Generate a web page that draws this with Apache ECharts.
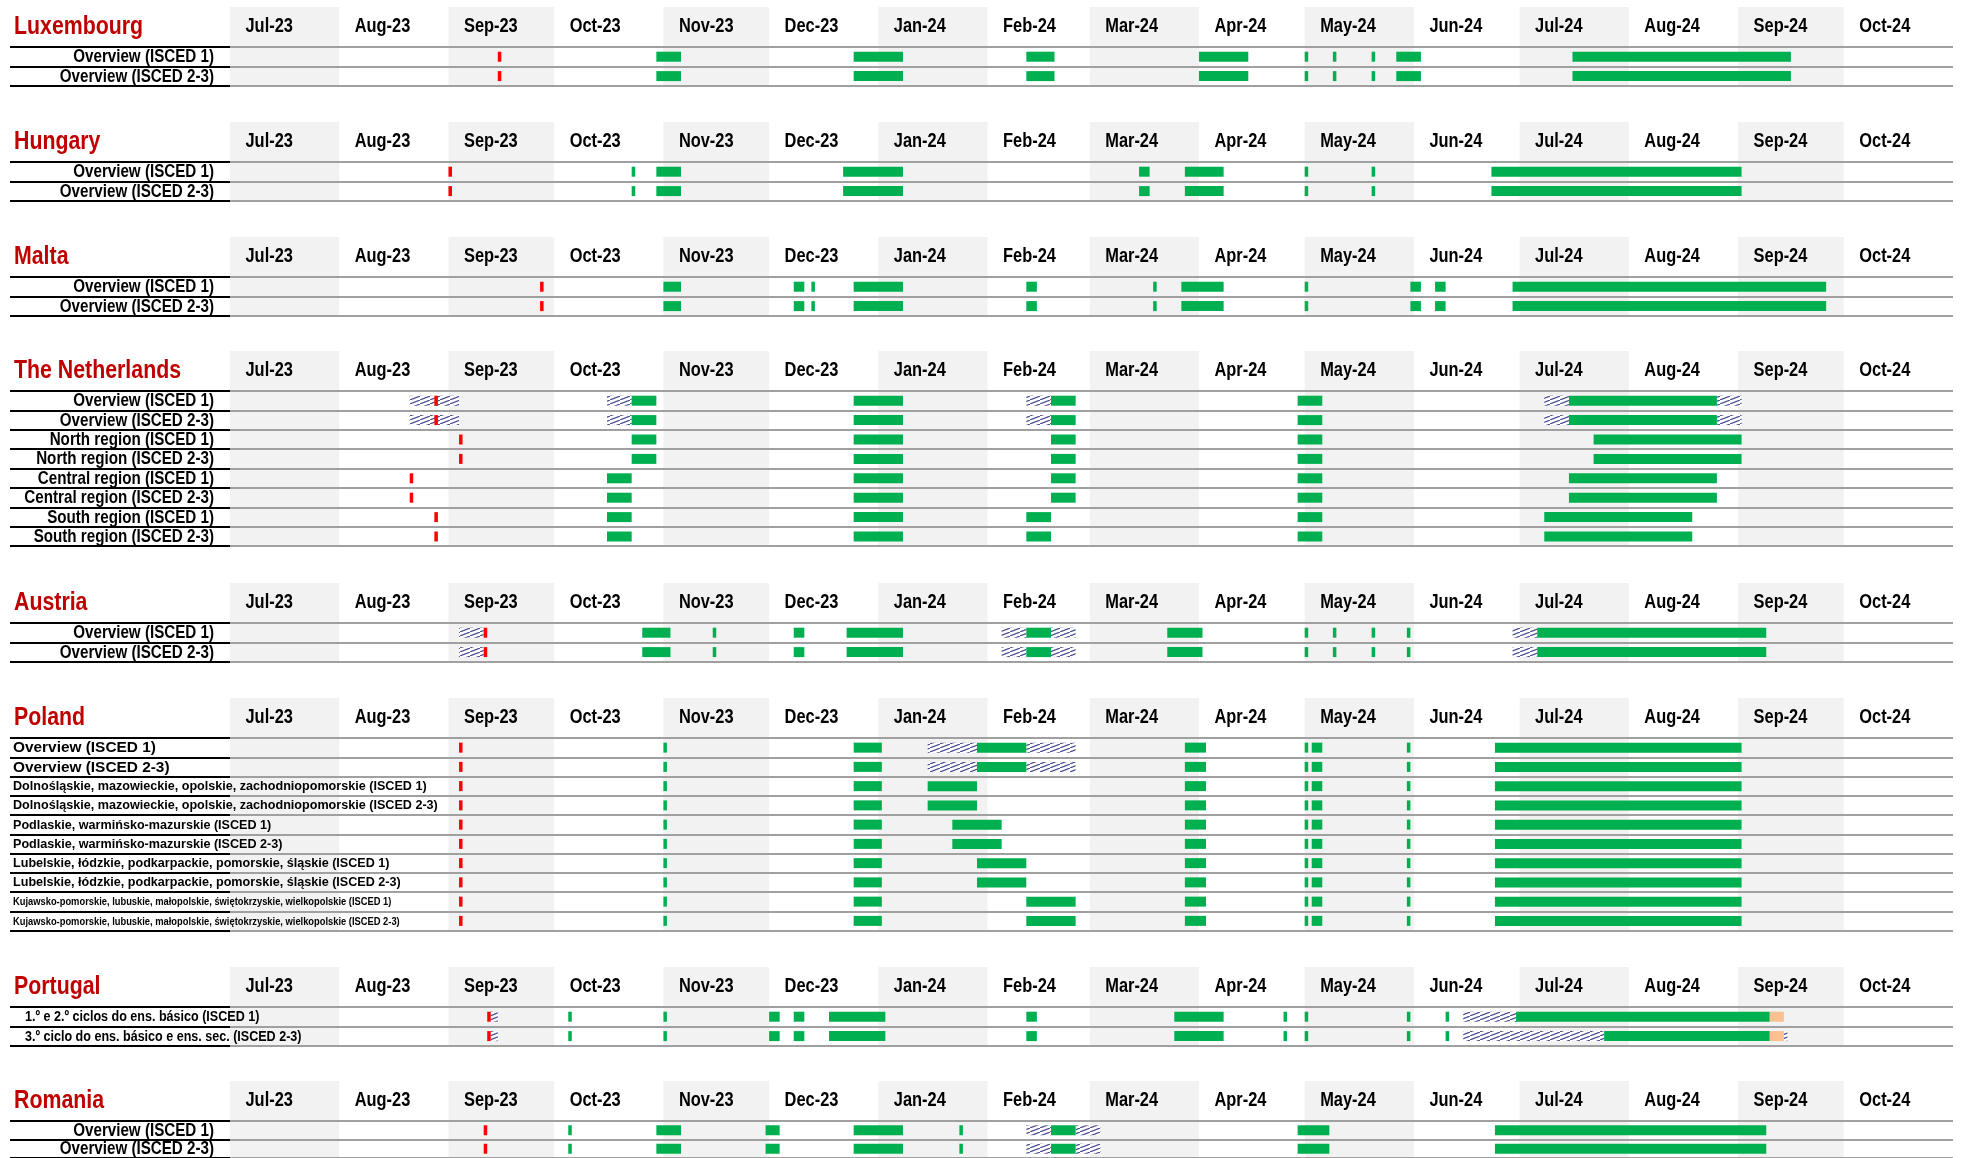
<!DOCTYPE html>
<html>
<head>
<meta charset="utf-8">
<script src="https://cdn.jsdelivr.net/npm/echarts@6/dist/echarts.min.js"></script>
<style>
html, body { margin: 0; padding: 0; background: #fff; }
#main { width: 1963px; height: 1158px; }
</style>
</head>
<body>
<div id="main"></div>
<script>
var monthLabels = ['Jul-23', 'Aug-23', 'Sep-23', 'Oct-23', 'Nov-23', 'Dec-23', 'Jan-24', 'Feb-24',
    'Mar-24', 'Apr-24', 'May-24', 'Jun-24', 'Jul-24', 'Aug-24', 'Sep-24', 'Oct-24'];

// bars: [kind, first row, last row, start, end (exclusive, empty = one day)]
// kind S = start of school year, H = holidays, O = regional / optional, X = other
var luxRows = ['Overview (ISCED 1)', 'Overview (ISCED 2-3)'];
var luxBars = [
    ['S', 0, 1, '2023-09-15'],
    ['H', 0, 1, '2023-10-30', '2023-11-06'],
    ['H', 0, 1, '2023-12-25', '2024-01-08'],
    ['H', 0, 1, '2024-02-12', '2024-02-20'],
    ['H', 0, 1, '2024-04-01', '2024-04-15'],
    ['H', 0, 1, '2024-05-01'],
    ['H', 0, 1, '2024-05-09'],
    ['H', 0, 1, '2024-05-20'],
    ['H', 0, 1, '2024-05-27', '2024-06-03'],
    ['H', 0, 1, '2024-07-16', '2024-09-16']
];

var huRows = ['Overview (ISCED 1)', 'Overview (ISCED 2-3)'];
var huBars = [
    ['S', 0, 1, '2023-09-01'],
    ['H', 0, 1, '2023-10-23'],
    ['H', 0, 1, '2023-10-30', '2023-11-06'],
    ['H', 0, 1, '2023-12-22', '2024-01-08'],
    ['H', 0, 1, '2024-03-15', '2024-03-18'],
    ['H', 0, 1, '2024-03-28', '2024-04-08'],
    ['H', 0, 1, '2024-05-01'],
    ['H', 0, 1, '2024-05-20'],
    ['H', 0, 1, '2024-06-23', '2024-09-02']
];

var mtRows = ['Overview (ISCED 1)', 'Overview (ISCED 2-3)'];
var mtBars = [
    ['S', 0, 1, '2023-09-27'],
    ['H', 0, 1, '2023-11-01', '2023-11-06'],
    ['H', 0, 1, '2023-12-08', '2023-12-11'],
    ['H', 0, 1, '2023-12-13'],
    ['H', 0, 1, '2023-12-25', '2024-01-08'],
    ['H', 0, 1, '2024-02-12', '2024-02-15'],
    ['H', 0, 1, '2024-03-19'],
    ['H', 0, 1, '2024-03-27', '2024-04-08'],
    ['H', 0, 1, '2024-05-01'],
    ['H', 0, 1, '2024-05-31', '2024-06-03'],
    ['H', 0, 1, '2024-06-07', '2024-06-10'],
    ['H', 0, 1, '2024-06-29', '2024-09-26']
];

var nlRows = ['Overview (ISCED 1)', 'Overview (ISCED 2-3)', 'North region (ISCED 1)', 'North region (ISCED 2-3)',
    'Central region (ISCED 1)', 'Central region (ISCED 2-3)', 'South region (ISCED 1)', 'South region (ISCED 2-3)'];
var nlBars = [
    ['O', 0, 1, '2023-08-21', '2023-09-04'],
    ['S', 0, 1, '2023-08-28'],
    ['O', 0, 1, '2023-10-16', '2023-10-23'],
    ['H', 0, 1, '2023-10-23', '2023-10-30'],
    ['H', 0, 7, '2023-12-25', '2024-01-08'],
    ['O', 0, 1, '2024-02-12', '2024-02-19'],
    ['H', 0, 1, '2024-02-19', '2024-02-26'],
    ['H', 0, 7, '2024-04-29', '2024-05-06'],
    ['O', 0, 1, '2024-07-08', '2024-07-15'],
    ['H', 0, 1, '2024-07-15', '2024-08-26'],
    ['O', 0, 1, '2024-08-26', '2024-09-02'],
    ['S', 2, 3, '2023-09-04'],
    ['H', 2, 3, '2023-10-23', '2023-10-30'],
    ['H', 2, 5, '2024-02-19', '2024-02-26'],
    ['H', 2, 3, '2024-07-22', '2024-09-02'],
    ['S', 4, 5, '2023-08-21'],
    ['H', 4, 7, '2023-10-16', '2023-10-23'],
    ['H', 4, 5, '2024-07-15', '2024-08-26'],
    ['S', 6, 7, '2023-08-28'],
    ['H', 6, 7, '2024-02-12', '2024-02-19'],
    ['H', 6, 7, '2024-07-08', '2024-08-19']
];

var atRows = ['Overview (ISCED 1)', 'Overview (ISCED 2-3)'];
var atBars = [
    ['O', 0, 1, '2023-09-04', '2023-09-11'],
    ['S', 0, 1, '2023-09-11'],
    ['H', 0, 1, '2023-10-26', '2023-11-03'],
    ['H', 0, 1, '2023-11-15'],
    ['H', 0, 1, '2023-12-08', '2023-12-11'],
    ['H', 0, 1, '2023-12-23', '2024-01-08'],
    ['O', 0, 1, '2024-02-05', '2024-02-12'],
    ['H', 0, 1, '2024-02-12', '2024-02-19'],
    ['O', 0, 1, '2024-02-19', '2024-02-26'],
    ['H', 0, 1, '2024-03-23', '2024-04-02'],
    ['H', 0, 1, '2024-05-01'],
    ['H', 0, 1, '2024-05-09'],
    ['H', 0, 1, '2024-05-20'],
    ['H', 0, 1, '2024-05-30'],
    ['O', 0, 1, '2024-06-29', '2024-07-06'],
    ['H', 0, 1, '2024-07-06', '2024-09-09']
];

var plRows = ['Overview (ISCED 1)', 'Overview (ISCED 2-3)',
    'Dolnośląskie, mazowieckie, opolskie, zachodniopomorskie (ISCED 1)',
    'Dolnośląskie, mazowieckie, opolskie, zachodniopomorskie (ISCED 2-3)',
    'Podlaskie, warmińsko-mazurskie (ISCED 1)',
    'Podlaskie, warmińsko-mazurskie (ISCED 2-3)',
    'Lubelskie, łódzkie, podkarpackie, pomorskie, śląskie (ISCED 1)',
    'Lubelskie, łódzkie, podkarpackie, pomorskie, śląskie (ISCED 2-3)',
    'Kujawsko-pomorskie, lubuskie, małopolskie, świętokrzyskie, wielkopolskie (ISCED 1)',
    'Kujawsko-pomorskie, lubuskie, małopolskie, świętokrzyskie, wielkopolskie (ISCED 2-3)'];
var plBars = [
    ['S', 0, 9, '2023-09-04'],
    ['H', 0, 9, '2023-11-01'],
    ['H', 0, 9, '2023-12-25', '2024-01-02'],
    ['O', 0, 1, '2024-01-15', '2024-01-29'],
    ['H', 0, 1, '2024-01-29', '2024-02-12'],
    ['O', 0, 1, '2024-02-12', '2024-02-26'],
    ['H', 2, 3, '2024-01-15', '2024-01-29'],
    ['H', 4, 5, '2024-01-22', '2024-02-05'],
    ['H', 6, 7, '2024-01-29', '2024-02-12'],
    ['H', 8, 9, '2024-02-12', '2024-02-26'],
    ['H', 0, 9, '2024-03-28', '2024-04-03'],
    ['H', 0, 9, '2024-05-01'],
    ['H', 0, 9, '2024-05-03', '2024-05-06'],
    ['H', 0, 9, '2024-05-30'],
    ['H', 0, 9, '2024-06-24', '2024-09-02']
];

var ptRows = ['1.º e 2.º ciclos do ens. básico (ISCED 1)', '3.º ciclo do ens. básico e ens. sec. (ISCED 2-3)'];
var ptBars = [
    ['S', 0, 1, '2023-09-12'],
    ['O', 0, 1, '2023-09-13', '2023-09-15'],
    ['H', 0, 1, '2023-10-05'],
    ['H', 0, 1, '2023-11-01'],
    ['H', 0, 1, '2023-12-01', '2023-12-04'],
    ['H', 0, 1, '2023-12-08', '2023-12-11'],
    ['H', 0, 1, '2023-12-18', '2024-01-03'],
    ['H', 0, 1, '2024-02-12', '2024-02-15'],
    ['H', 0, 1, '2024-03-25', '2024-04-08'],
    ['H', 0, 1, '2024-04-25'],
    ['H', 0, 1, '2024-05-01'],
    ['H', 0, 1, '2024-05-30'],
    ['H', 0, 1, '2024-06-10'],
    ['O', 0, 0, '2024-06-15', '2024-06-30'],
    ['H', 0, 0, '2024-06-30', '2024-09-10'],
    ['O', 1, 1, '2024-06-15', '2024-07-25'],
    ['H', 1, 1, '2024-07-25', '2024-09-10'],
    ['X', 0, 1, '2024-09-10', '2024-09-14'],
    ['O', 1, 1, '2024-09-14', '2024-09-15']
];

var roRows = ['Overview (ISCED 1)', 'Overview (ISCED 2-3)'];
var roBars = [
    ['S', 0, 1, '2023-09-11'],
    ['H', 0, 1, '2023-10-05'],
    ['H', 0, 1, '2023-10-30', '2023-11-06'],
    ['H', 0, 1, '2023-11-30', '2023-12-04'],
    ['H', 0, 1, '2023-12-25', '2024-01-08'],
    ['H', 0, 1, '2024-01-24'],
    ['O', 0, 1, '2024-02-12', '2024-02-19'],
    ['H', 0, 1, '2024-02-19', '2024-02-26'],
    ['O', 0, 1, '2024-02-26', '2024-03-04'],
    ['H', 0, 1, '2024-04-29', '2024-05-08'],
    ['H', 0, 1, '2024-06-24', '2024-09-09']
];

// no Arial Narrow here: Liberation Sans squeezed horizontally
var ARIAL = "'Liberation Sans', Arial, sans-serif";
var NARROW = 0.82;
var DAY = 86400000;

// layout of the blocks (pixels)
var sections = [
    { name: 'Luxembourg', rows: luxRows, bars: luxBars, top: 47 },
    { name: 'Hungary', rows: huRows, bars: huBars, top: 162 },
    { name: 'Malta', rows: mtRows, bars: mtBars, top: 277 },
    { name: 'The Netherlands', rows: nlRows, bars: nlBars, top: 391 },
    { name: 'Austria', rows: atRows, bars: atBars, top: 623 },
    { name: 'Poland', rows: plRows, bars: plBars, top: 738, rowH: 19.25, label: 'pl' },
    { name: 'Portugal', rows: ptRows, bars: ptBars, top: 1007, label: 'pt' },
    { name: 'Romania', rows: roRows, bars: roBars, top: 1121 }
];

function ms(s) {
    var p = s.split('-');
    return Date.UTC(+p[0], +p[1] - 1, +p[2]);
}
var xMin = ms('2023-07-01');
var xMax = ms('2024-11-01');

// row label look: [x, align, fontSize, scaleX]
function rowLabelStyle(sec, i) {
    if (sec.label === 'pl') {
        if (i < 2) return [13, 'left', 15.4, 1];
        if (i < 8) return [13, 'left', 12.6, 1];
        return [13, 'left', 11.4, NARROW];
    }
    if (sec.label === 'pt') return [25, 'left', 15.3, NARROW];
    return [214, 'right', 18.5, NARROW];
}

// hatch pattern
var hatch = document.createElement('canvas');
hatch.width = 10; hatch.height = 4;
var hc = hatch.getContext('2d');
hc.fillStyle = '#ffffff';
hc.fillRect(0, 0, 10, 4);
hc.strokeStyle = '#4a4e94';
hc.lineWidth = 1.2;
hc.beginPath();
hc.moveTo(0, 4); hc.lineTo(10, 0);
hc.stroke();

var kinds = ['S', 'H', 'O', 'X'];
var kindFill = ['#ff0000', '#00b050', { image: hatch, repeat: 'repeat' }, '#fac08f'];
var kindZ = [3, 2, 1, 2];

var monthData = monthLabels.map(function (m, i) {
    return [Date.UTC(2023, 6 + i, 1), Date.UTC(2023, 7 + i, 1), 0, i];
});

var option = {
    animation: false,
    backgroundColor: '#ffffff',
    graphic: [],
    grid: [],
    xAxis: [],
    yAxis: [],
    series: []
};

sections.forEach(function (sec, si) {
    var rowH = sec.rowH || 19.4;
    var headY = sec.top - 20.5;

    option.graphic.push({
        type: 'text',
        x: 14,
        y: headY,
        scaleX: NARROW,
        style: {
            text: sec.name, fill: '#c00000', verticalAlign: 'middle',
            fontSize: 26, fontWeight: 'bold', fontFamily: ARIAL
        }
    });
    option.grid.push({ left: 230, width: 1723, top: sec.top, height: rowH * sec.rows.length });
    option.xAxis.push({ gridIndex: si, type: 'value', min: xMin, max: xMax, show: false });
    option.yAxis.push({
        gridIndex: si,
        type: 'category',
        inverse: true,
        data: sec.rows,
        z: 2,
        axisLine: { show: false },
        axisLabel: { show: false },
        axisTick: { show: true, interval: 0, length: 220, lineStyle: { color: '#000', width: 2 } },
        splitLine: { show: true, interval: 0, lineStyle: { color: '#a0a0a0', width: 2 } }
    });

    // month columns and header labels
    option.series.push({
        type: 'custom',
        xAxisIndex: si,
        yAxisIndex: si,
        z: 1,
        clip: false,
        silent: true,
        encode: { x: [0, 1], y: 2 },
        data: monthData,
        renderItem: function (params, api) {
            var cs = params.coordSys;
            var x0 = api.coord([api.value(0), 0])[0];
            var x1 = api.coord([api.value(1), 0])[0];
            var i = api.value(3);
            var children = [];
            if (i % 2 === 0) {
                children.push({
                    type: 'rect',
                    shape: { x: x0, y: cs.y - 40, width: x1 - x0, height: cs.height + 40 },
                    style: { fill: '#f2f2f2' }
                });
            }
            children.push({
                type: 'text',
                x: x0 + 15.5,
                y: cs.y - 20.5,
                scaleX: NARROW,
                style: {
                    text: monthLabels[i], align: 'left', verticalAlign: 'middle',
                    fill: '#000', fontSize: 20, fontWeight: 'bold', fontFamily: ARIAL
                }
            });
            return { type: 'group', children: children };
        }
    });

    // row labels
    option.series.push({
        type: 'custom',
        xAxisIndex: si,
        yAxisIndex: si,
        z: 4,
        clip: false,
        silent: true,
        encode: { x: 0, y: 1 },
        data: sec.rows.map(function (r, i) { return [xMin, i]; }),
        renderItem: function (params, api) {
            var i = api.value(1);
            var st = rowLabelStyle(sec, i);
            return {
                type: 'text',
                x: st[0],
                y: api.coord([xMin, i])[1] + 0.5,
                scaleX: st[3],
                style: {
                    text: sec.rows[i], align: st[1], verticalAlign: 'middle',
                    fill: '#000', fontSize: st[2], fontWeight: 'bold', fontFamily: ARIAL
                }
            };
        }
    });

    var barData = [];
    sec.bars.forEach(function (b) {
        var s = ms(b[3]);
        var e = b[4] ? ms(b[4]) : s + DAY;
        for (var r = b[1]; r <= b[2]; r++) {
            barData.push([s, e, r, kinds.indexOf(b[0])]);
        }
    });
    option.series.push({
        type: 'custom',
        xAxisIndex: si,
        yAxisIndex: si,
        z: 3,
        clip: false,
        encode: { x: [0, 1], y: 2 },
        data: barData,
        renderItem: function (params, api) {
            var p0 = api.coord([api.value(0), api.value(2)]);
            var p1 = api.coord([api.value(1), api.value(2)]);
            var k = api.value(3);
            return {
                type: 'rect',
                z2: kindZ[k],
                shape: { x: p0[0], y: p0[1] - 5, width: p1[0] - p0[0], height: 10 },
                style: { fill: kindFill[k] }
            };
        }
    });
});

var myChart = echarts.init(document.getElementById('main'));
myChart.setOption(option);
</script>
</body>
</html>
